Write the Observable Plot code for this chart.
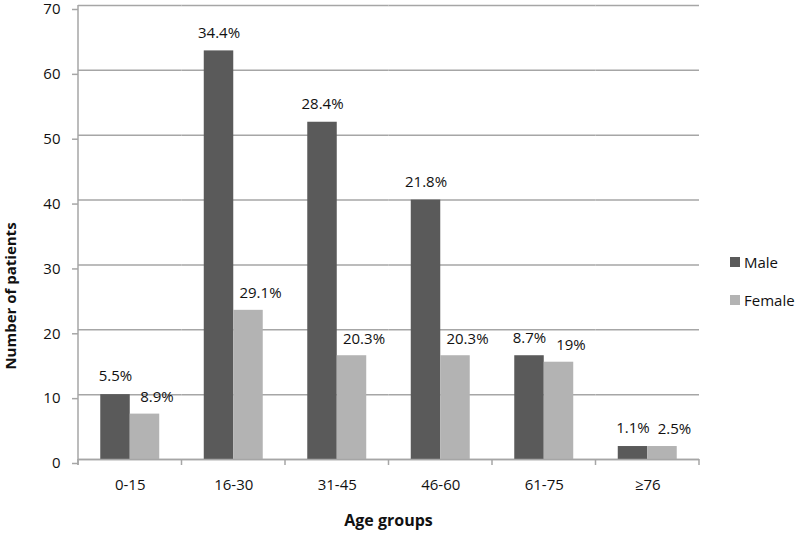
<!DOCTYPE html>
<html>
<head>
<meta charset="utf-8">
<script src="https://cdn.jsdelivr.net/npm/d3@7"></script>
<script src="https://cdn.jsdelivr.net/npm/@observablehq/plot@0.6"></script>
<style>
  body { margin: 0; background: #fff; }
  #wrap { position: relative; width: 800px; height: 534px; }
  #legend { position: absolute; left: 730px; top: 252px; }
  div.lg-swatches-columns div.lg-swatch { padding-bottom: 18px; font-size: 15px; color: #111; }
  div.lg-swatches-columns div.lg-swatch svg { margin-right: 4px; }
  div.lg-swatches-columns { margin: 0; font-family: "Open Sans", sans-serif; }
</style>
</head>
<body>
<div id="wrap"><div id="legend"></div></div>
<script>
const categories = ["0-15", "16-30", "31-45", "46-60", "61-75", "≥76"];
const sexes = ["Male", "Female"];
const male = [10, 63, 52, 40, 16, 2];
const female = [7, 23, 16, 16, 15, 2];
const maleLabels = ["5.5%", "34.4%", "28.4%", "21.8%", "8.7%", "1.1%"];
const femaleLabels = ["8.9%", "29.1%", "20.3%", "20.3%", "19%", "2.5%"];
const yTicks = [0, 10, 20, 30, 40, 50, 60, 70];
const xTitle = "Age groups";
const yTitle = "Number of patients";

const data = [];
categories.forEach((c, i) => {
  data.push({cat: c, sex: "Male", value: male[i], label: maleLabels[i]});
  data.push({cat: c, sex: "Female", value: female[i], label: femaleLabels[i]});
});

const chart = Plot.plot({
  width: 800,
  height: 534,
  marginLeft: 78,
  marginRight: 101,
  marginTop: 5,
  marginBottom: 75,
  style: {fontFamily: "'Open Sans', sans-serif", fontSize: "15px", color: "#111", background: "#fff", overflow: "visible"},
  fx: {domain: categories, padding: 0, round: false, label: null},
  x: {domain: sexes, paddingInner: 0, paddingOuter: 0.755, round: false, axis: null},
  y: {domain: [0, 70], label: null},
  color: {domain: sexes, range: ["#5a5a5a", "#b3b3b3"]},
  marks: [
    Plot.gridY(yTicks, {stroke: "#a6a6a6", strokeOpacity: 1, strokeWidth: 1.5}),
    Plot.barY(data, {fx: "cat", x: "sex", y: "value", fill: "sex"}),
    Plot.text(data.filter(d => d.sex === "Male"), {fx: "cat", x: "sex", y: "value", text: "label", dy: -18, fontSize: 15, fill: "#111"}),
    Plot.text(data.filter(d => d.sex === "Female"), {fx: "cat", x: "sex", y: "value", text: "label", dy: -17, dx: 12, fontSize: 15, fill: "#111"}),
    Plot.ruleY([0], {stroke: "#a6a6a6", strokeWidth: 1.5}),
    Plot.axisY(yTicks, {tickSize: 6, tickPadding: 12, stroke: "#a6a6a6", strokeWidth: 1.5, fontSize: 15, dy: 4, label: null}),
    Plot.axisFx({anchor: "bottom", tickSize: 0, tickPadding: 20, fontSize: 15, label: null})
  ]
});

document.getElementById("wrap").prepend(chart);

// axis line and category boundary ticks from Plot's own scales
const fx = chart.scale("fx");
const y = chart.scale("y");
const svg = d3.select(chart);
const bounds = categories.map(c => fx.apply(c)).concat([fx.apply(categories[categories.length - 1]) + fx.bandwidth]);
const g = svg.append("g").attr("stroke", "#a6a6a6").attr("stroke-width", 1.5);
g.append("line").attr("x1", bounds[0]).attr("x2", bounds[0]).attr("y1", y.apply(70)).attr("y2", y.apply(0) + 6);
bounds.forEach(b => g.append("line").attr("x1", b).attr("x2", b).attr("y1", y.apply(0)).attr("y2", y.apply(0) + 6));

// axis titles
svg.append("text")
  .attr("transform", `translate(12,${(y.apply(0) + y.apply(70)) / 2 + 64}) rotate(-90)`)
  .attr("text-anchor", "middle").attr("dominant-baseline", "middle")
  .attr("font-weight", "bold").attr("font-size", 15).attr("fill", "#111")
  .text(yTitle);
svg.append("text")
  .attr("x", (bounds[0] + bounds[bounds.length - 1]) / 2).attr("y", 522)
  .attr("text-anchor", "middle").attr("dominant-baseline", "middle")
  .attr("font-weight", "bold").attr("font-size", 16).attr("fill", "#111")
  .text(xTitle);

const legend = chart.legend("color", {legend: "swatches", columns: 1, swatchSize: 10, className: "lg"});
document.getElementById("legend").appendChild(legend);
</script>
</body>
</html>
